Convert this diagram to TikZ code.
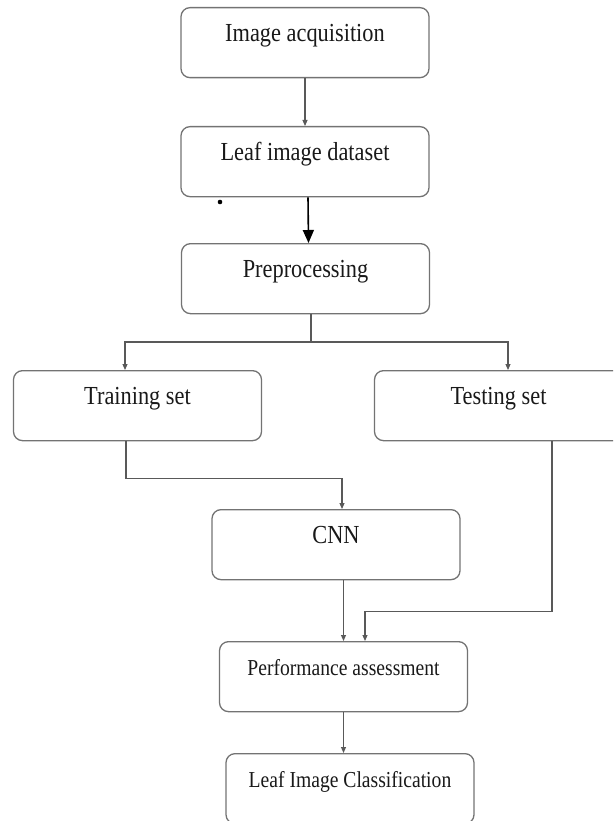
\documentclass[tikz,border=0pt]{standalone}
\usepackage{fontspec}
\setmainfont{Liberation Serif}
\usetikzlibrary{arrows.meta}
\newcommand{\squeezed}[1]{\scalebox{0.86}[1]{#1}}
\tikzset{
  stage/.style={draw=black!55, line width=1.3pt, rounded corners=9pt,
    minimum width=248pt, inner sep=0pt, text height=34pt, text depth=36pt,
    font=\fontsize{26}{30}\selectfont, text=black!90},
  smalltext/.style={font=\fontsize{22.8}{27}\selectfont},
  flow/.style={draw=black!65, line width=1.1pt, -{Triangle[length=6pt,width=5pt]}},
  bigflow/.style={draw=black, line width=1.6pt, -{Triangle[length=13pt,width=11pt]}},
}
\begin{document}
\begin{tikzpicture}[x=1pt,y=-1pt]
      % the page 
      \useasboundingbox (0,0) rectangle (613,821);
      \clip (0,0) rectangle (613,821);
      %%%% main column 
      \node[stage,anchor=north] (acq) at (305,7) {\squeezed{Image acquisition}};
      \node[stage,anchor=north] (dataset) at (305,126) {\squeezed{Leaf image dataset}};
      \node[stage,anchor=north] (prep) at (305.5,243) {\squeezed{Preprocessing}};
      %%%% the split 
      \node[stage,anchor=north] (train) at (137.5,370) {\squeezed{Training set}};
      \node[stage,anchor=north] (test) at (498.5,370) {\squeezed{Testing set}};
      \node[stage,anchor=north] (cnn) at (336,509) {\squeezed{CNN}};
      \node[stage,smalltext,anchor=north] (perf) at (343.5,641) {\squeezed{Performance assessment}};
      \node[stage,smalltext,anchor=north] (classif) at (350,753) {\squeezed{Leaf Image Classification}};
      \coordinate (split) at (311,342);
      %% the arrows 
      \draw[flow] (acq.south) -- (dataset.north);
      \draw[bigflow] ([xshift=3pt]dataset.south) -- ([xshift=3pt]prep.north);
      \fill (220,202) circle (2.3pt); % stray dot
      \draw[flow,-] ([xshift=5.5pt]prep.south) -- (split);
      \draw[flow] (split) -| ([xshift=-12.5pt]train.north);
      \draw[flow] (split) -| ([xshift=9.5pt]test.north);
      \draw[flow] ([xshift=-11.5pt]train.south) -- ++(0,37) -| ([xshift=6pt]cnn.north);
      \draw[flow] ([xshift=53.5pt]test.south) -- ++(0,170) -| ([xshift=21.5pt]perf.north);
      \draw[flow] (perf.north |- cnn.south) -- (perf.north);
      \draw[flow] (perf.south) -- (perf.south |- classif.north);
    \end{tikzpicture}
\end{document}
